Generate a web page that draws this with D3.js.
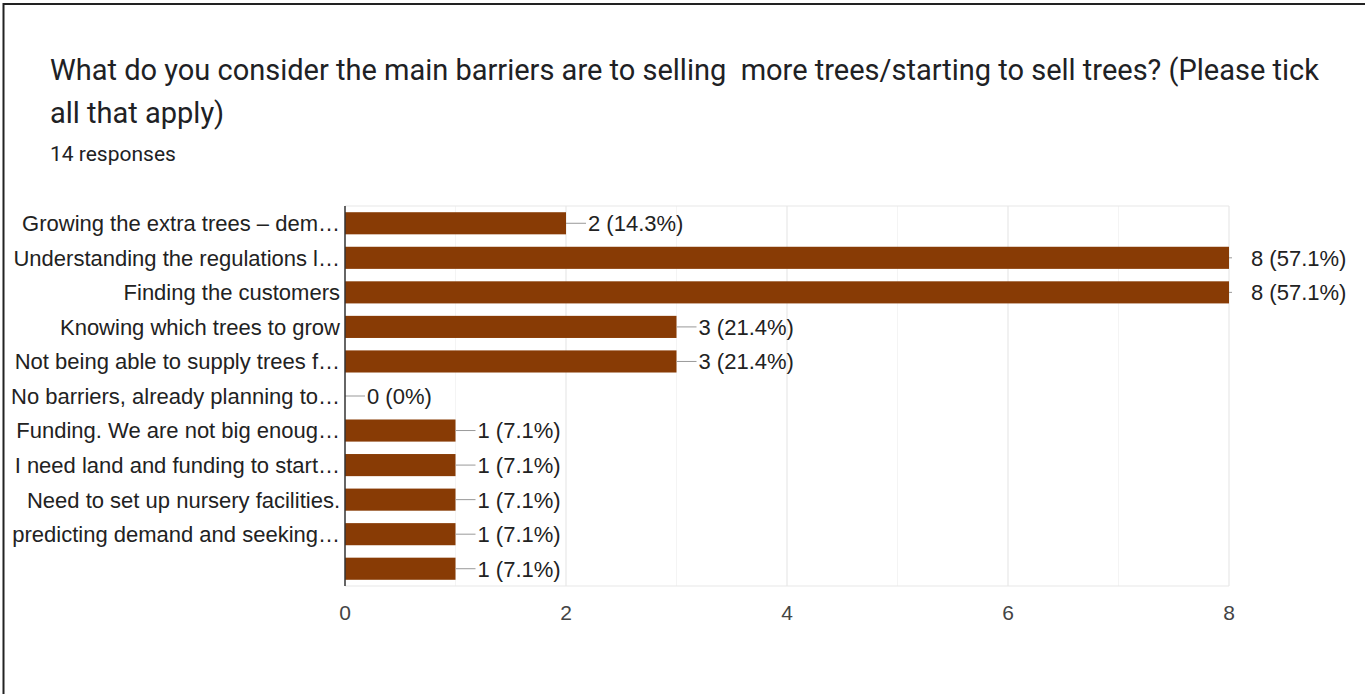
<!DOCTYPE html>
<html>
<head>
<meta charset="utf-8">
<script src="https://cdn.jsdelivr.net/npm/d3@7"></script>
<style>
  html, body { margin: 0; padding: 0; background: #fff; }
  svg { display: block; }
</style>
</head>
<body>
<svg id="chart" width="1365" height="694"></svg>
<script>
// Survey question and response count
const titleLines = [
  "What do you consider the main barriers are to selling  more trees/starting to sell trees? (Please tick",
  "all that apply)"
];
const subtitle = "14 responses";

// Answer options (truncated as displayed) and their counts
const categories = [
  "Growing the extra trees \u2013 dem\u2026",
  "Understanding the regulations l\u2026",
  "Finding the customers",
  "Knowing which trees to grow",
  "Not being able to supply trees f\u2026",
  "No barriers, already planning to\u2026",
  "Funding. We are not big enoug\u2026",
  "I need land and funding to start\u2026",
  "Need to set up nursery facilities.",
  "predicting demand and seeking\u2026",
  ""
];
const counts = [2, 8, 8, 3, 3, 0, 1, 1, 1, 1, 1];
const totalResponses = 14;
const xTicks = [0, 2, 4, 6, 8];
const xMinorTicks = [1, 3, 5, 7];

(function drawChart() {
  const svg = d3.select("#chart");

  // Card border
  svg.append("rect")
    .attr("x", 3.5).attr("y", 4)
    .attr("width", 1400).attr("height", 720)
    .attr("fill", "none")
    .attr("stroke", "#222")
    .attr("stroke-width", 2);

  // Title
  svg.selectAll("text.title")
    .data(titleLines)
    .join("text")
    .attr("class", "title")
    .attr("x", 50)
    .attr("y", (d, i) => 80 + i * 43)
    .attr("font-family", "Roboto, sans-serif")
    .attr("font-size", 29)
    .attr("fill", "#202124")
    .style("white-space", "pre")
    .text(d => d);

  svg.append("text")
    .attr("x", 50).attr("y", 161)
    .attr("font-family", "Roboto, sans-serif")
    .attr("font-size", 21)
    .attr("fill", "#202124")
    .text(subtitle);

  // Plot geometry
  const plotL = 345, plotR = 1229, plotT = 206, plotB = 586;
  const x = d3.scaleLinear().domain([0, 8]).range([plotL, plotR]);
  const y = d3.scaleBand()
    .domain(d3.range(categories.length))
    .range([plotT, plotB])
    .paddingInner(0.36)
    .paddingOuter(0.18);

  const labelFont = "'Liberation Sans', Arial, sans-serif";

  // Grid
  const grid = svg.append("g");
  grid.selectAll("line.minor")
    .data(xMinorTicks)
    .join("line")
    .attr("class", "minor")
    .attr("x1", d => x(d)).attr("x2", d => x(d))
    .attr("y1", plotT).attr("y2", plotB)
    .attr("stroke", "#f4f4f4").attr("stroke-width", 1);
  grid.selectAll("line.major")
    .data(xTicks.slice(1))
    .join("line")
    .attr("class", "major")
    .attr("x1", d => x(d)).attr("x2", d => x(d))
    .attr("y1", plotT).attr("y2", plotB)
    .attr("stroke", "#e8e8e8").attr("stroke-width", 1.2);
  grid.selectAll("line.h")
    .data([plotT, plotB])
    .join("line")
    .attr("class", "h")
    .attr("x1", plotL).attr("x2", plotR)
    .attr("y1", d => d).attr("y2", d => d)
    .attr("stroke", "#e8e8e8").attr("stroke-width", 1.2);

  // Bars
  svg.append("g").selectAll("rect")
    .data(counts)
    .join("rect")
    .attr("x", x(0))
    .attr("y", (d, i) => y(i))
    .attr("width", d => x(d) - x(0))
    .attr("height", y.bandwidth())
    .attr("fill", "#883b05");

  // Value leaders and labels
  const clipId = "plotClip";
  svg.append("clipPath").attr("id", clipId)
    .append("rect").attr("x", plotL).attr("y", plotT - 5)
    .attr("width", plotR - plotL + 3).attr("height", plotB - plotT + 10);

  svg.append("g").attr("clip-path", `url(#${clipId})`)
    .selectAll("line")
    .data(counts)
    .join("line")
    .attr("x1", d => x(d))
    .attr("x2", d => x(d) + 20)
    .attr("y1", (d, i) => y(i) + y.bandwidth() / 2)
    .attr("y2", (d, i) => y(i) + y.bandwidth() / 2)
    .attr("stroke", "#999").attr("stroke-width", 1);

  svg.append("g").selectAll("text")
    .data(counts)
    .join("text")
    .attr("x", d => x(d) + 22)
    .attr("y", (d, i) => y(i) + y.bandwidth() / 2)
    .attr("dy", "0.36em")
    .attr("font-family", labelFont)
    .attr("font-size", 22)
    .attr("fill", "#222")
    .text(d => {
      const pct = Math.round(d / totalResponses * 1000) / 10;
      return `${d} (${pct}%)`;
    });

  // Category labels
  svg.append("g").selectAll("text")
    .data(categories)
    .join("text")
    .attr("x", plotL - 5)
    .attr("y", (d, i) => y(i) + y.bandwidth() / 2)
    .attr("dy", "0.36em")
    .attr("text-anchor", "end")
    .attr("font-family", labelFont)
    .attr("font-size", 22)
    .attr("fill", "#222")
    .text(d => d);

  // Baseline axis
  svg.append("line")
    .attr("x1", x(0)).attr("x2", x(0))
    .attr("y1", plotT).attr("y2", plotB)
    .attr("stroke", "#333").attr("stroke-width", 1.5);

  // X-axis tick labels
  svg.append("g").selectAll("text")
    .data(xTicks)
    .join("text")
    .attr("x", d => x(d))
    .attr("y", 620)
    .attr("text-anchor", "middle")
    .attr("font-family", labelFont)
    .attr("font-size", 21)
    .attr("fill", "#444")
    .text(d => d);
})();
</script>
</body>
</html>
